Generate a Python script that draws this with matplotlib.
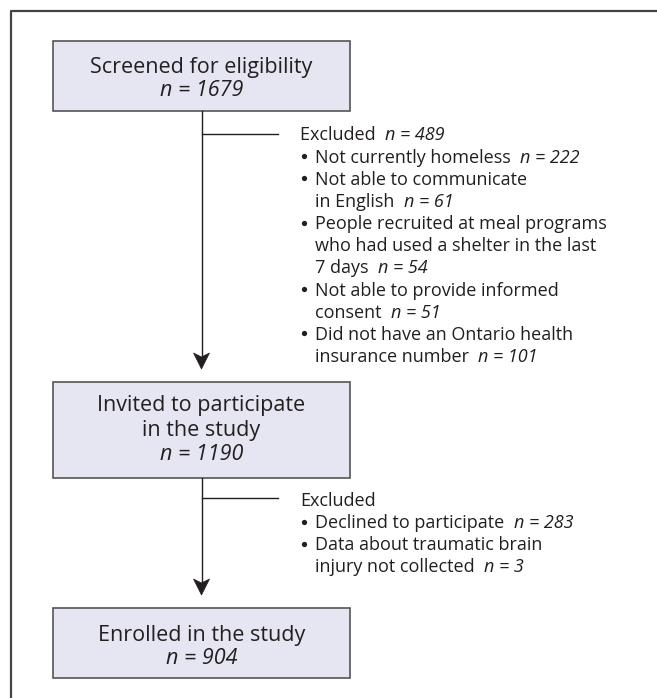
import matplotlib
matplotlib.use('Agg')
import matplotlib.pyplot as plt
from matplotlib.patches import Rectangle, Polygon

plt.rcParams['font.family'] = ['Open Sans', 'DejaVu Sans']

# flow stages
stage_labels = [['Screened for eligibility'],
                ['Invited to participate', 'in the study'],
                ['Enrolled in the study']]
stage_n = [1679, 1190, 904]

# exclusions between stages
excluded_n = [489, None]
reasons_1 = [['Not currently homeless'],
             ['Not able to communicate', 'in English'],
             ['People recruited at meal programs', 'who had used a shelter in the last', '7 days'],
             ['Not able to provide informed', 'consent'],
             ['Did not have an Ontario health', 'insurance number']]
reasons_1_n = [222, 61, 54, 51, 101]
reasons_2 = [['Declined to participate'],
             ['Data about traumatic brain', 'injury not collected']]
reasons_2_n = [283, 3]

W, H = 657, 698
INK = '#231f20'
fig = plt.figure(figsize=(W / 100, H / 100), dpi=100)
ax = fig.add_axes([0, 0, 1, 1])
ax.set_xlim(0, W)
ax.set_ylim(H, 0)
ax.axis('off')
renderer = fig.canvas.get_renderer()

BIG = 15.5
SMALL = 13


def mixed(x, y, plain, italic, size, ha='left'):
    '''plain text followed by italic text on one baseline'''
    if plain:
        t = ax.text(x, y, plain, fontsize=size, color=INK, va='baseline')
        bb = t.get_window_extent(renderer)
        xi = ax.transData.inverted().transform((bb.x1, 0))[0]
        ax.text(xi, y, italic, fontsize=size, color=INK, va='baseline', style='italic')
    else:
        ax.text(x, y, italic, fontsize=size, color=INK, va='baseline',
                style='italic', ha=ha)


# frame
ax.plot([11, 11, W], [H, 10.5, 10.5], color='#444444', lw=1.6)

# boxes: (top, bottom, first baseline, line step)
boxes = [(41, 111, 72.5, 24), (382, 478, 411.5, 24.5), (608, 678, 641.5, 22)]
bx0, bx1 = 52.5, 350
cx = (bx0 + bx1) / 2
for (top, bot, base, step), lines, n in zip(boxes, stage_labels, stage_n):
    ax.add_patch(Rectangle((bx0, top), bx1 - bx0, bot - top, facecolor='#e5e6f1',
                           edgecolor='#555555', lw=1.2))
    for i, line in enumerate(lines):
        ax.text(cx, base + i * step, line, fontsize=BIG, color=INK,
                ha='center', va='baseline')
    mixed(cx, base + len(lines) * step, '', f'n = {n}', BIG, ha='center')

# connectors with arrows
lx = 201.5
for (top, bot, _, _), (ntop, _, _, _) in zip(boxes[:-1], boxes[1:]):
    tip = ntop - 13
    ax.plot([lx, lx], [bot, tip - 10], color=INK, lw=1)
    ax.add_patch(Polygon([(lx - 8, tip - 16), (lx, tip - 12), (lx + 8, tip - 16),
                          (lx, tip)], closed=True, facecolor=INK, edgecolor=INK, lw=0.5))

# exclusion texts
TX, BX, IX = 300, 303.5, 315
groups = [(134, 140.5, 22.15, reasons_1, reasons_1_n, excluded_n[0]),
          (498, 506.5, 22.0, reasons_2, reasons_2_n, excluded_n[1])]
for hy, base, step, reasons, ns, total in groups:
    ax.plot([lx, 278], [hy, hy], color=INK, lw=1)
    if total is None:
        ax.text(TX, base, 'Excluded', fontsize=SMALL, color=INK, va='baseline')
    else:
        mixed(TX, base, 'Excluded  ', f'n = {total}', SMALL)
    k = 1
    for lines, n in zip(reasons, ns):
        ax.plot(BX, base + k * step - 6.5, 'o', ms=3.8, color=INK, mew=0)
        for j, line in enumerate(lines):
            y = base + k * step
            if j == len(lines) - 1:
                mixed(IX, y, line + '  ', f'n = {n}', SMALL)
            else:
                ax.text(IX, y, line, fontsize=SMALL, color=INK, va='baseline')
            k += 1

fig.savefig('out.png', dpi=100, facecolor='white')
